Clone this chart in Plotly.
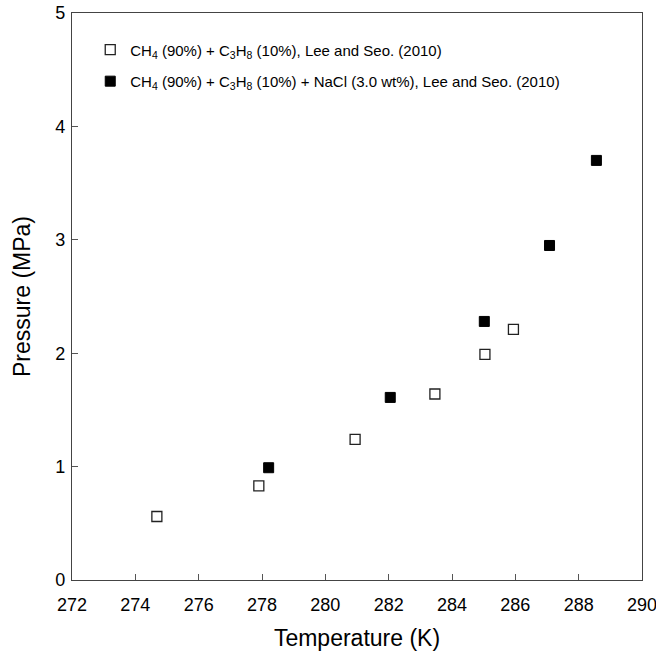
import plotly.graph_objects as go

# Data
t_pure = [274.68, 277.90, 280.94, 283.46, 285.04, 285.94]
p_pure = [0.56, 0.83, 1.24, 1.64, 1.99, 2.21]

t_salt = [278.21, 282.05, 285.02, 287.08, 288.56]
p_salt = [0.99, 1.61, 2.28, 2.95, 3.70]

name_pure = "CH<sub>4</sub> (90%) + C<sub>3</sub>H<sub>8</sub> (10%), Lee and Seo. (2010)"
name_salt = ("CH<sub>4</sub> (90%) + C<sub>3</sub>H<sub>8</sub> (10%) + NaCl (3.0 wt%), "
             "Lee and Seo. (2010)")

x_ticks = [272, 274, 276, 278, 280, 282, 284, 286, 288, 290]
y_ticks = [0, 1, 2, 3, 4, 5]

FONT = "Liberation Sans, Arial"

fig = go.Figure()
fig.add_trace(go.Scatter(
    x=t_pure, y=p_pure, mode="markers", name=name_pure, legendgroup="a",
    marker=dict(symbol="square", size=10, color="white",
                line=dict(color="#222222", width=1.3)),
))
fig.add_trace(go.Scatter(
    x=t_salt, y=p_salt, mode="markers", name=name_salt, legendgroup="b",
    marker=dict(symbol="square", size=10, color="black",
                line=dict(color="black", width=1)),
))

axis_common = dict(
    showgrid=False, zeroline=False, showline=True, linecolor="#444444",
    linewidth=1.3, mirror=True, ticks="inside", ticklen=6, tickwidth=1.2,
    tickcolor="#555555", tickfont=dict(family=FONT, size=18, color="black"),
    automargin=False, ticklabeloverflow="allow",
)

fig.update_xaxes(
    range=[272, 290], tickvals=x_ticks, ticktext=[str(v) for v in x_ticks],
    ticklabelstandoff=8,
    title=dict(text="Temperature (K)", font=dict(family=FONT, size=23, color="black"), standoff=16),
    **axis_common,
)
fig.update_yaxes(
    range=[0, 5], tickvals=y_ticks, ticktext=[str(v) for v in y_ticks],
    ticklabelstandoff=2,
    title=dict(text="Pressure (MPa)", font=dict(family=FONT, size=23, color="black"), standoff=18),
    **axis_common,
)

fig.update_layout(
    width=656, height=658,
    margin=dict(l=72, r=14, t=13, b=78),
    plot_bgcolor="white", paper_bgcolor="white",
    showlegend=True,
    legend=dict(
        x=0.032, y=0.964, xanchor="left", yanchor="top",
        bgcolor="rgba(0,0,0,0)", borderwidth=0,
        font=dict(family=FONT, size=15, color="black"),
        traceorder="grouped", tracegroupgap=9,
    ),
)

fig.write_html("out.html")
